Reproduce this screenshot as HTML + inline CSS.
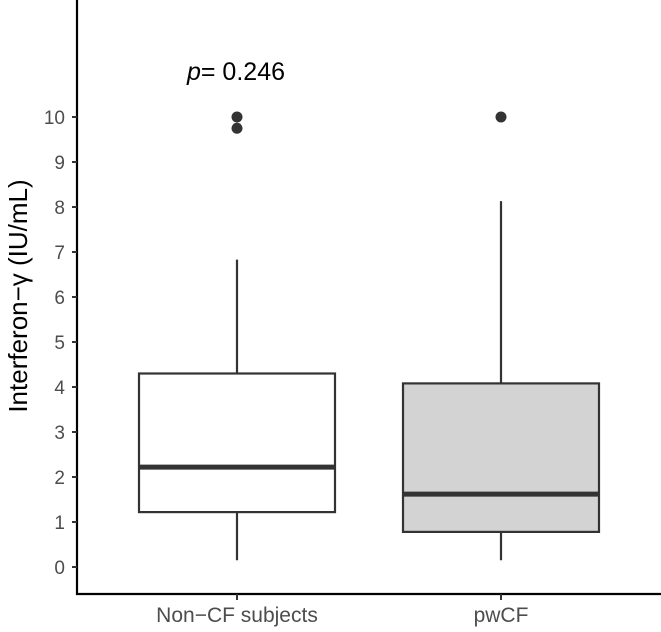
<!DOCTYPE html>
<html><head><meta charset="utf-8"><style>body{margin:0;background:#fff}svg{display:block}text{font-family:"Liberation Sans",sans-serif}</style></head>
<body>
<svg width="661" height="632" viewBox="0 0 661 632">
<g id="plot"></g>
</svg>
<script>
const categories = ["Non\u2212CF subjects", "pwCF"];
const q1 = [1.22, 0.78];
const median = [2.22, 1.62];
const q3 = [4.3, 4.08];
const whiskerLow = [0.15, 0.15];
const whiskerHigh = [6.83, 8.13];
const outliers = [[10, 9.75], [10]];
const fills = ["#ffffff", "#d3d3d3"];
const yTicks = [0,1,2,3,4,5,6,7,8,9,10];
const pLabel = "0.246";

const y = v => 567 - v * 45;
const xc = i => 237 + i * 264;
const halfW = 98;
const NS = "http://www.w3.org/2000/svg";
const g = document.getElementById("plot");
function mk(tag, attrs){const e=document.createElementNS(NS,tag);for(const k in attrs)e.setAttribute(k,attrs[k]);g.appendChild(e);return e;}

let e = mk("line",{x1:77,y1:0,x2:77,y2:595,stroke:"#000","stroke-width":2.2});


e = mk("line",{x1:76,y1:594,x2:661,y2:594,stroke:"#000","stroke-width":2.2});



yTicks.forEach(t=>{
  let l = mk("line",{x1:72,y1:y(t),x2:77,y2:y(t),stroke:"#333","stroke-width":2});
  
  
  let tx = mk("text",{x:65,y:y(t)+7,"text-anchor":"end","font-size":19,fill:"#4d4d4d"});
  tx.textContent = t;
  
  
});

categories.forEach((c,i)=>{
  const cx = xc(i);
  let l = mk("line",{x1:cx,y1:594,x2:cx,y2:600,stroke:"#333","stroke-width":2});
  
  
  let tx = mk("text",{x:cx,y:622,"text-anchor":"middle","font-size":21,fill:"#4d4d4d"});
  tx.textContent = c;
  
  
  let w1 = mk("line",{x1:cx,y1:y(q3[i]),x2:cx,y2:y(whiskerHigh[i]),stroke:"#333","stroke-width":2.2});
  
  
  let w2 = mk("line",{x1:cx,y1:y(q1[i]),x2:cx,y2:y(whiskerLow[i]),stroke:"#333","stroke-width":2.2});
  
  
  let b = mk("rect",{x:cx-halfW,y:y(q3[i]),width:2*halfW,height:y(q1[i])-y(q3[i]),fill:fills[i],stroke:"#333","stroke-width":2.2});
  
  
  let m = mk("line",{x1:cx-halfW,y1:y(median[i]),x2:cx+halfW,y2:y(median[i]),stroke:"#333","stroke-width":5});
  
  
  outliers[i].forEach(v=>{
    let o = mk("circle",{cx:cx,cy:y(v),r:5.5,fill:"#333"});
    
    
  });
});

let p = mk("text",{x:236,y:80,"text-anchor":"middle","font-size":25,fill:"#000"});
p.innerHTML = '<tspan font-style="italic">p</tspan>= ' + pLabel;



let yt = mk("text",{x:0,y:0,"text-anchor":"middle","font-size":26,fill:"#000",transform:"translate(27,296) rotate(-90)"});
yt.textContent = "Interferon\u2212\u03b3 (IU/mL)";


</script>
</body></html>
